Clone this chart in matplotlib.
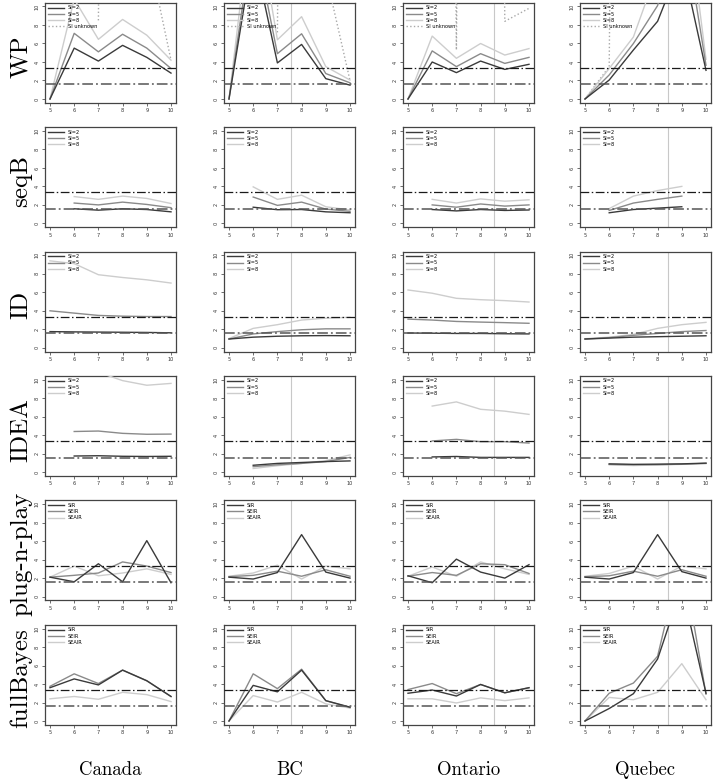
import numpy as np
import matplotlib
matplotlib.use("Agg")
import matplotlib.pyplot as plt

nan = np.nan
years = [5, 6, 7, 8, 9, 10]
yticks = [0, 2, 4, 6, 8, 10]
row_labels = ["WP", "seqB", "ID", "IDEA", "plug-n-play", "fullBayes"]
col_labels = ["Canada", "BC", "Ontario", "Quebec"]
si_labels = ["SI=2", "SI=5", "SI=8", "SI unknown"]
model_labels = ["SIR", "SEIR", "SEAIR"]

# reference lines
hline_upper = 3.35
hline_lower = 1.57
vline_x = [None, 7.58, 8.55, 8.42]

# ---- WP (SI=2, SI=5, SI=8, SI unknown)
wp_canada = [[0, 5.5, 4.1, 5.8, 4.5, 2.8],
             [0, 7.1, 5.1, 7.0, 5.5, 3.3],
             [0, 10.8, 6.45, 8.6, 6.9, 4.2],
             [nan, nan, 8.5, 300, 16.6, 4.2]]
wp_bc = [[0, 16, 3.9, 5.9, 2.2, 1.5],
         [0, 18, 4.9, 7.05, 2.75, 1.75],
         [0, 22, 6.4, 8.9, 3.5, 2.05],
         [nan, nan, 7.2, 300, 13.5, 2.0]]
wp_ontario = [[0, 4.0, 2.85, 4.1, 3.2, 3.75],
              [0, 5.2, 3.5, 4.9, 3.85, 4.5],
              [0, 6.8, 4.4, 6.0, 4.75, 5.45],
              [nan, 300, 5.3, 300, 8.4, 9.8]]
wp_quebec = [[0, 2.05, 5.3, 8.4, 15, 3.1],
             [0, 2.6, 6.0, 10.1, 20, 3.65],
             [0, 3.3, 6.7, 14, 25, 4.3],
             [0, 3.5, 300, 300, 300, 300]]

# ---- seqB
seqb_canada = [[nan, 1.58, 1.43, 1.58, 1.5, 1.25],
               [nan, 2.2, 2.0, 2.3, 2.05, 1.7],
               [nan, 2.9, 2.6, 2.95, 2.7, 2.15]]
seqb_bc = [[nan, 1.75, 1.48, 1.5, 1.25, 1.15],
           [nan, 2.85, 1.95, 2.3, 1.55, 1.3],
           [nan, 3.95, 2.6, 3.05, 1.8, 1.45]]
seqb_ontario = [[nan, 1.5, 1.35, 1.5, 1.4, 1.45],
                [nan, 2.0, 1.75, 2.1, 1.87, 2.0],
                [nan, 2.6, 2.2, 2.65, 2.4, 2.55]]
seqb_quebec = [[nan, 1.15, 1.5, 1.65, 1.8, nan],
               [nan, 1.4, 2.2, 2.6, 2.95, nan],
               [nan, 1.6, 2.95, 3.55, 4.0, nan]]

# ---- ID
id_canada = [[1.75, 1.72, 1.7, 1.68, 1.66, 1.62],
             [4.0, 3.75, 3.5, 3.42, 3.38, 3.38],
             [9.4, 9.1, 7.9, 7.6, 7.35, 7.0]]
id_bc = [[0.95, 1.15, 1.25, 1.3, 1.32, 1.3],
         [0.95, 1.5, 1.75, 1.95, 2.05, 2.05],
         [1.0, 2.1, 2.5, 3.0, 3.2, 3.3]]
id_ontario = [[1.6, 1.58, 1.55, 1.55, 1.52, 1.5],
              [3.1, 3.0, 2.85, 2.78, 2.72, 2.65],
              [6.25, 5.9, 5.35, 5.2, 5.1, 4.95]]
id_quebec = [[0.95, 1.05, 1.15, 1.2, 1.25, 1.3],
             [0.95, 1.1, 1.35, 1.55, 1.75, 1.87],
             [0.98, 1.15, 1.45, 2.1, 2.5, 2.75]]

# ---- IDEA
idea_canada = [[nan, 1.75, 1.78, 1.72, 1.7, 1.72],
               [nan, 4.4, 4.45, 4.2, 4.1, 4.12],
               [nan, 11.5, 10.8, 9.9, 9.4, 9.6]]
idea_bc = [[nan, 0.75, 0.95, 1.05, 1.15, 1.22],
           [nan, 0.6, 0.8, 0.95, 1.15, 1.6],
           [nan, 0.4, 0.7, 0.95, 1.25, 1.87]]
idea_ontario = [[nan, 1.65, 1.7, 1.6, 1.6, 1.6],
                [nan, 3.38, 3.55, 3.3, 3.3, 3.15],
                [nan, 7.15, 7.6, 6.8, 6.6, 6.25]]
idea_quebec = [[nan, 0.9, 0.85, 0.87, 0.9, 0.98],
               [nan, 0.85, 0.8, 0.82, 0.87, 0.95],
               [nan, 0.8, 0.72, 0.78, 0.85, 0.95]]

# ---- plug-n-play (SIR, SEIR, SEAIR)
pnp_canada = [[2.1, 1.6, 3.55, 1.6, 6.05, 1.5],
              [2.1, 2.3, 2.55, 3.75, 3.3, 2.6],
              [2.1, 3.3, 2.25, 2.55, 3.0, 2.4]]
pnp_bc = [[2.1, 1.9, 2.6, 6.7, 2.65, 2.0],
          [2.15, 2.3, 2.75, 2.2, 2.9, 2.2],
          [2.2, 2.55, 3.4, 1.9, 3.3, 3.0]]
pnp_ontario = [[2.25, 1.5, 4.05, 2.65, 2.0, 3.45],
               [2.2, 2.6, 2.3, 3.55, 3.45, 2.5],
               [2.2, 3.2, 2.2, 3.75, 3.0, 2.4]]
pnp_quebec = [[2.1, 1.9, 2.6, 6.7, 2.7, 2.0],
              [2.15, 2.25, 2.75, 2.2, 2.9, 2.2],
              [2.2, 2.5, 3.3, 1.9, 3.3, 3.0]]

# ---- fullBayes (SIR, SEIR, SEAIR)
fb_canada = [[3.6, 4.55, 3.9, 5.5, 4.35, 2.65],
             [3.75, 5.1, 4.05, 5.5, 4.35, 2.65],
             [2.4, 2.65, 2.35, 3.1, 2.85, 2.1]]
fb_bc = [[0, 3.85, 3.15, 5.5, 2.2, 1.5],
         [0, 5.1, 3.5, 5.6, 2.2, 1.45],
         [0, 2.75, 2.05, 3.1, 1.85, 1.4]]
fb_ontario = [[3.0, 3.35, 2.7, 3.95, 3.05, 3.6],
              [3.4, 4.05, 2.95, 3.95, 3.05, 3.6],
              [2.4, 2.4, 1.95, 2.5, 2.2, 2.5]]
fb_quebec = [[0, 1.35, 2.95, 6.7, 14.5, 3.0],
             [0, 3.0, 4.1, 7.0, 18, 2.9],
             [0, 2.55, 2.3, 3.1, 6.2, 2.3]]

rows_data = [
    [wp_canada, wp_bc, wp_ontario, wp_quebec],
    [seqb_canada, seqb_bc, seqb_ontario, seqb_quebec],
    [id_canada, id_bc, id_ontario, id_quebec],
    [idea_canada, idea_bc, idea_ontario, idea_quebec],
    [pnp_canada, pnp_bc, pnp_ontario, pnp_quebec],
    [fb_canada, fb_bc, fb_ontario, fb_quebec],
]

series_colors = ["#3a3a3a", "#8a8a8a", "#cdcdcd", "#a8a8a8"]
series_styles = ["-", "-", "-", ":"]

W, H = 714, 783
fig = plt.figure(figsize=(W / 100, H / 100), dpi=100)

col_x5 = [50, 229, 408, 585]   # pixel x of year 5
xs = 24.2                       # px per year
ys = 9.25                       # px per unit
serif = ["cmr10", "DejaVu Serif"]

for r in range(6):
    y0 = 99 + 124.4 * r
    labels = model_labels if r >= 4 else si_labels
    for c in range(4):
        left = (col_x5[c] - 0.2 * xs) / W
        bottom = 1 - (y0 + 0.4 * ys) / H
        ax = fig.add_axes([left, bottom, 5.4 * xs / W, 10.8 * ys / H])
        ax.set_xlim(4.8, 10.2)
        ax.set_ylim(-0.4, 10.4)
        data = rows_data[r][c]
        handles = []
        for k, vals in enumerate(data):
            h, = ax.plot(years, np.array(vals, dtype=float),
                         color=series_colors[k], ls=series_styles[k],
                         lw=1.0, label=labels[k], zorder=3 - 0.1 * k)
            handles.append(h)
        ax.axhline(hline_upper, color="#1a1a1a", lw=0.9,
                   ls=(0, (7, 2, 1.2, 2)), zorder=4)
        ax.axhline(hline_lower, color="#555555", lw=1.1,
                   ls=(0, (7, 2, 1.2, 2)), zorder=4)
        if vline_x[c] is not None:
            ax.axvline(vline_x[c], color="#c8c8c8", lw=0.8, zorder=1)
        ax.legend(handles=handles, loc="upper left", frameon=False,
                  fontsize=3.6, handlelength=3.2, labelspacing=0.25,
                  borderaxespad=0.3, borderpad=0.2, handletextpad=0.8)
        ax.set_xticks(years)
        ax.set_yticks(yticks)
        ax.tick_params(direction="out", length=2.5, width=0.5,
                       labelsize=3.6, pad=1.5, colors="#333333")
        for lab in ax.get_yticklabels():
            lab.set_rotation(90)
            lab.set_va("center")
        for sp in ax.spines.values():
            sp.set_color("#444444")
            sp.set_linewidth(0.9)
    center = y0 - 4.6 * ys
    fig.text(21 / W, 1 - center / H, row_labels[r], rotation=90,
             ha="center", va="center", fontsize=18, family=serif)

for c in range(4):
    cx = col_x5[c] + 2.5 * xs
    fig.text(cx / W, 1 - 770 / H, col_labels[c], ha="center", va="center",
             fontsize=13.5, family=serif)

fig.savefig("out.png", dpi=100)
